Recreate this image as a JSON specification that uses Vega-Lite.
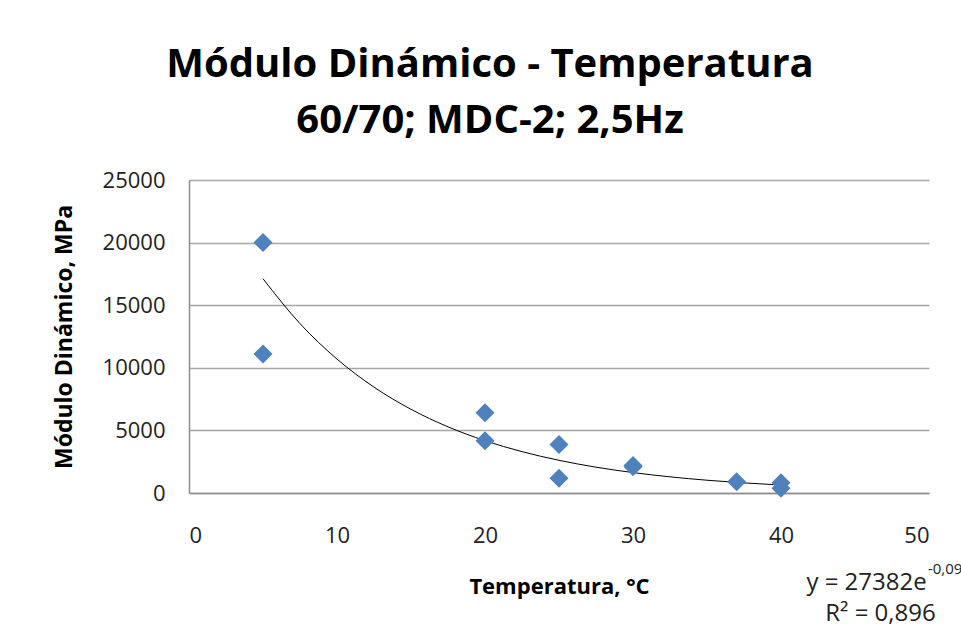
{
  "$schema": "https://vega.github.io/schema/vega-lite/v6.json",
  "autosize": {"type": "none"},
  "width": 740,
  "height": 313,
  "padding": {"left": 189, "top": 180, "right": 32, "bottom": 135},
  "background": "white",
  "config": {
    "view": {"stroke": null},
    "font": "Open Sans"
  },
  "title": {
    "text": ["Módulo Dinámico - Temperatura", "60/70; MDC-2; 2,5Hz"],
    "anchor": "middle",
    "frame": "group",
    "dx": -69,
    "font": "Open Sans",
    "fontSize": 40,
    "fontWeight": "bold",
    "color": "black",
    "lineHeight": 56,
    "offset": 28
  },
  "datasets": {
    "points": [
      {"temp": 5, "modulo": 20000},
      {"temp": 5, "modulo": 11100},
      {"temp": 20, "modulo": 6400},
      {"temp": 20, "modulo": 4170},
      {"temp": 25, "modulo": 3880},
      {"temp": 25, "modulo": 1170},
      {"temp": 30, "modulo": 2200},
      {"temp": 30, "modulo": 2100},
      {"temp": 37, "modulo": 900},
      {"temp": 40, "modulo": 820},
      {"temp": 40, "modulo": 370}
    ],
    "trend": [
      {"temp": 5, "modulo": 17114},
      {"temp": 7.5, "modulo": 13529},
      {"temp": 10, "modulo": 10696},
      {"temp": 12.5, "modulo": 8456},
      {"temp": 15, "modulo": 6685},
      {"temp": 17.5, "modulo": 5285},
      {"temp": 20, "modulo": 4178},
      {"temp": 22.5, "modulo": 3303},
      {"temp": 25, "modulo": 2611},
      {"temp": 27.5, "modulo": 2064},
      {"temp": 30, "modulo": 1632},
      {"temp": 32.5, "modulo": 1290},
      {"temp": 35, "modulo": 1020},
      {"temp": 37.5, "modulo": 806},
      {"temp": 40, "modulo": 637}
    ],
    "notes": [
      {"temp": 45.78, "modulo": -7748, "label": "y = 27382e"},
      {"temp": 46.72, "modulo": -10260, "label": "R² = 0,896"}
    ],
    "sup": [
      {"temp": 49.93, "modulo": -6450, "label": "-0,09x"}
    ]
  },
  "layer": [
    {
      "data": {"name": "trend"},
      "mark": {"type": "line", "color": "black", "strokeWidth": 1, "interpolate": "monotone"},
      "encoding": {
        "x": {
          "field": "temp", "type": "quantitative",
          "scale": {"domain": [0, 50], "nice": false},
          "axis": {
            "title": "Temperatura, °C",
            "values": [0, 10, 20, 30, 40, 50],
            "grid": false,
            "ticks": false,
            "tickSize": 0,
            "domainColor": "#8c8c8c",
            "domainWidth": 1.5,
            "labelFont": "Open Sans",
            "labelFontSize": 22,
            "labelColor": "#222222",
            "labelPadding": 32,
            "titleFont": "Open Sans",
            "titleFontSize": 22,
            "titleFontWeight": "bold",
            "titleColor": "black",
            "titlePadding": 30
          }
        },
        "y": {
          "field": "modulo", "type": "quantitative",
          "scale": {"domain": [0, 25000], "nice": false},
          "axis": {
            "title": "Módulo Dinámico, MPa",
            "values": [0, 5000, 10000, 15000, 20000, 25000],
            "format": "d",
            "grid": true,
            "gridColor": "#a6a6a6",
            "gridWidth": 1.5,
            "ticks": false,
            "tickSize": 0,
            "domainColor": "#8c8c8c",
            "domainWidth": 1.5,
            "labelFont": "Open Sans",
            "labelFontSize": 22,
            "labelColor": "#222222",
            "labelPadding": 24,
            "titleFont": "Open Sans",
            "titleFontSize": 23,
            "titleFontWeight": "bold",
            "titleColor": "black",
            "titlePadding": 26
          }
        }
      }
    },
    {
      "data": {"name": "points"},
      "mark": {"type": "point", "shape": "diamond", "filled": true, "size": 361, "color": "#4F81BD", "opacity": 1},
      "encoding": {
        "x": {"field": "temp", "type": "quantitative"},
        "y": {"field": "modulo", "type": "quantitative"}
      }
    },
    {
      "data": {"name": "notes"},
      "mark": {"type": "text", "align": "center", "baseline": "alphabetic", "fontSize": 24, "font": "Open Sans", "color": "#222222"},
      "encoding": {
        "x": {"field": "temp", "type": "quantitative"},
        "y": {"field": "modulo", "type": "quantitative"},
        "text": {"field": "label"}
      }
    },
    {
      "data": {"name": "sup"},
      "mark": {"type": "text", "align": "left", "baseline": "alphabetic", "fontSize": 15, "font": "Open Sans", "color": "#222222"},
      "encoding": {
        "x": {"field": "temp", "type": "quantitative"},
        "y": {"field": "modulo", "type": "quantitative"},
        "text": {"field": "label"}
      }
    }
  ]
}
